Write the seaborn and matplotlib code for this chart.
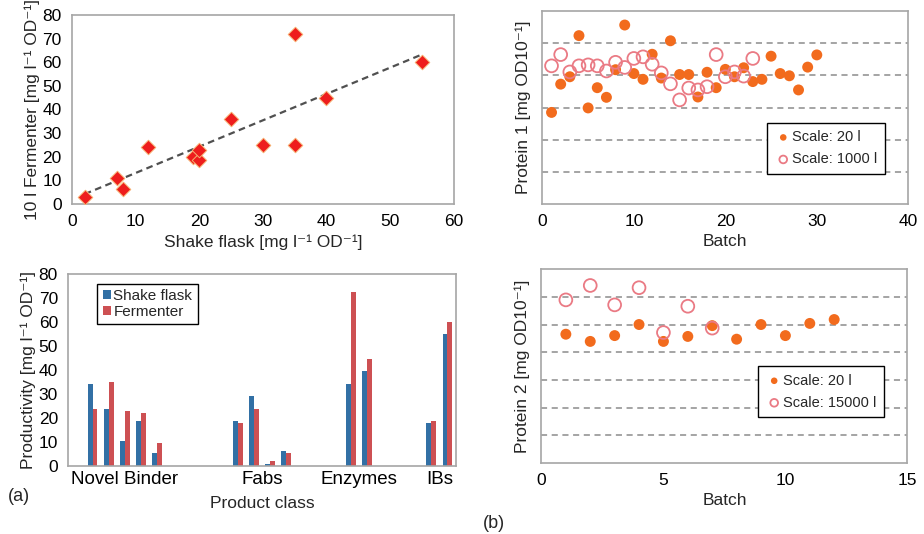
import numpy as np
import pandas as pd
import seaborn as sns
import matplotlib.pyplot as plt

# =====================
# Data
# =====================
# (a) top: shake flask vs 10 l fermenter productivity
shake = [2, 7, 8, 12, 19, 20, 20, 25, 30, 35, 35, 40, 55]
ferm10 = [3, 11, 6.5, 24, 20, 18.5, 23, 36, 25, 72, 25, 45, 60]

# (a) bottom: productivity per product class
classes = ["Novel Binder", "Fabs", "Enzymes", "IBs"]
class_slots = [[1, 2, 3, 4, 5], [10, 11, 12, 13], [17, 18], [22, 23]]
bar_shake = [[34, 24, 10.5, 19, 5.5], [19, 29, 1, 6.5], [34, 39.5], [18, 55]]
bar_ferm = [[24, 35, 23, 22, 9.5], [18, 24, 2, 5.5], [72.5, 44.5], [19, 60]]

# (b) top: protein 1, arbitrary units (grid spacing = 1)
p1_batch_20 = list(range(1, 31))
p1_val_20 = [2.85, 3.73, 3.96, 5.24, 2.99, 3.62, 3.32, 4.18, 5.57, 4.06,
             3.88, 4.66, 3.92, 5.08, 4.03, 4.03, 3.33, 4.10, 3.62, 4.19,
             3.96, 4.24, 3.81, 3.88, 4.60, 4.06, 3.99, 3.55, 4.26, 4.64]
p1_batch_1000 = list(range(1, 24))
p1_val_1000 = [4.30, 4.65, 4.11, 4.30, 4.33, 4.30, 4.14, 4.41, 4.25, 4.53,
               4.58, 4.35, 4.08, 3.74, 3.24, 3.61, 3.55, 3.65, 4.65, 3.96,
               4.11, 3.98, 4.53]

# (b) bottom: protein 2
p2_batch_20 = list(range(1, 13))
p2_val_20 = [4.65, 4.39, 4.60, 5.00, 4.39, 4.57, 4.96, 4.47, 5.00, 4.60, 5.04, 5.18]
p2_batch_15000 = list(range(1, 8))
p2_val_15000 = [5.89, 6.41, 5.71, 6.33, 4.71, 5.66, 4.87]

# =====================
# Style
# =====================
sns.set_theme(style="white")
plt.rcParams["font.family"] = ["Liberation Sans", "DejaVu Sans"]
plt.rcParams["font.size"] = 12

SPINE = "#a6a6a6"
RED = "#ee1d1d"
BLUE = "#1f72b8"
BRED = "#e23b3f"
ORANGE = "#f26b1d"
PINK = "#ea7a84"
TICK_FS = 12.5
LAB_FS = 12.5
UNIT = "[mg l\u207b\u00b9 OD\u207b\u00b9]"
OD = "[mg OD10\u207b\u00b9]"


def style_axes(ax):
    for s in ax.spines.values():
        s.set_color(SPINE)
        s.set_linewidth(1.2)
    ax.tick_params(colors=SPINE, labelcolor="black", labelsize=TICK_FS,
                   length=4, width=1, direction="out")


fig = plt.figure(figsize=(9.24, 5.34), dpi=100)
ax1 = fig.add_axes([0.078, 0.618, 0.413, 0.354])
ax2 = fig.add_axes([0.074, 0.127, 0.419, 0.36])
ax3 = fig.add_axes([0.587, 0.618, 0.396, 0.361])
ax4 = fig.add_axes([0.586, 0.133, 0.396, 0.363])

# =====================
# (a) top: scatter + dashed trend line
# =====================
sns.regplot(x=shake, y=ferm10, scatter=False, ci=None, truncate=True, ax=ax1,
            line_kws=dict(color="#505050", lw=1.6, ls=(0, (3, 2))))
sns.scatterplot(x=shake, y=ferm10, marker="D", s=55, color=RED,
                edgecolor="#f6b070", linewidth=0.7, ax=ax1, zorder=3)
ax1.set_xlim(0, 60)
ax1.set_ylim(0, 80)
ax1.set_xticks(range(0, 61, 10))
ax1.set_yticks(range(0, 81, 10))
ax1.set_xlabel("Shake flask " + UNIT, fontsize=LAB_FS, labelpad=4)
ax1.set_ylabel("10 l Fermenter " + UNIT, fontsize=LAB_FS, labelpad=2)
style_axes(ax1)

# =====================
# (a) bottom: grouped bars
# =====================
rows = []
for slots, sv, fv in zip(class_slots, bar_shake, bar_ferm):
    for s, a, b in zip(slots, sv, fv):
        rows.append({"slot": s, "value": a, "series": "Shake flask"})
        rows.append({"slot": s, "value": b, "series": "Fermenter"})
bars_df = pd.DataFrame(rows)

sns.barplot(data=bars_df, x="slot", y="value", hue="series", native_scale=True,
            width=0.6, palette=[BLUE, BRED], edgecolor="none", ax=ax2)
ax2.set_xlim(-0.5, 23.5)
ax2.set_ylim(0, 80)
ax2.set_yticks(range(0, 81, 10))
ax2.set_xticks([np.mean(s) for s in class_slots])
ax2.set_xticklabels(classes)
ax2.set_xlabel("Product class", fontsize=LAB_FS, labelpad=6)
ax2.set_ylabel("Productivity " + UNIT, fontsize=LAB_FS, labelpad=2)
style_axes(ax2)
ax2.tick_params(axis="x", length=0, labelsize=13.5)
leg = ax2.legend(loc="upper left", bbox_to_anchor=(0.055, 0.99), fontsize=11,
                 handlelength=0.55, handleheight=0.55, handletextpad=0.15,
                 labelspacing=0.15, borderpad=0.35, fancybox=False,
                 edgecolor="black", framealpha=1)
leg.get_frame().set_linewidth(1.0)

# =====================
# (b) protein panels
# =====================
def protein_panel(ax, bx, by, ox, oy, olabel, xmax, xstep, ytop, legend_y):
    sns.scatterplot(x=bx, y=by, s=62, color=ORANGE, edgecolor="none",
                    label="Scale: 20 l", ax=ax, zorder=3)
    sns.scatterplot(x=ox, y=oy, s=85, facecolor="none", edgecolor=PINK,
                    linewidth=1.3, label=olabel, ax=ax, zorder=3)
    ax.set_xlim(0, xmax)
    ax.set_ylim(0, ytop)
    ax.set_xticks(range(0, xmax + 1, xstep))
    ax.set_yticks(range(1, ytop))
    ax.yaxis.grid(True, color="#8c8c8c", ls=(0, (4, 3)), lw=1.1)
    ax.set_xlabel("Batch", fontsize=LAB_FS, labelpad=3)
    style_axes(ax)
    ax.tick_params(axis="y", length=0, labelleft=False)
    leg = ax.legend(loc="lower right", bbox_to_anchor=(0.955, legend_y),
                    fontsize=10.5, markerscale=0.6, handletextpad=0.0,
                    handlelength=1.2, labelspacing=0.55, borderpad=0.5,
                    fancybox=False, edgecolor="black", framealpha=1)
    leg.get_frame().set_linewidth(1.0)


protein_panel(ax3, p1_batch_20, p1_val_20, p1_batch_1000, p1_val_1000,
              "Scale: 1000 l", 40, 10, 6, 0.12)
ax3.set_ylabel("Protein 1 " + OD, fontsize=LAB_FS, labelpad=8)

protein_panel(ax4, p2_batch_20, p2_val_20, p2_batch_15000, p2_val_15000,
              "Scale: 15000 l", 15, 5, 7, 0.2)
ax4.set_ylabel("Protein 2 " + OD, fontsize=LAB_FS, labelpad=8)

fig.text(0.008, 0.062, "(a)", fontsize=13)
fig.text(0.523, 0.012, "(b)", fontsize=13)

fig.savefig("out.png", dpi=100)
